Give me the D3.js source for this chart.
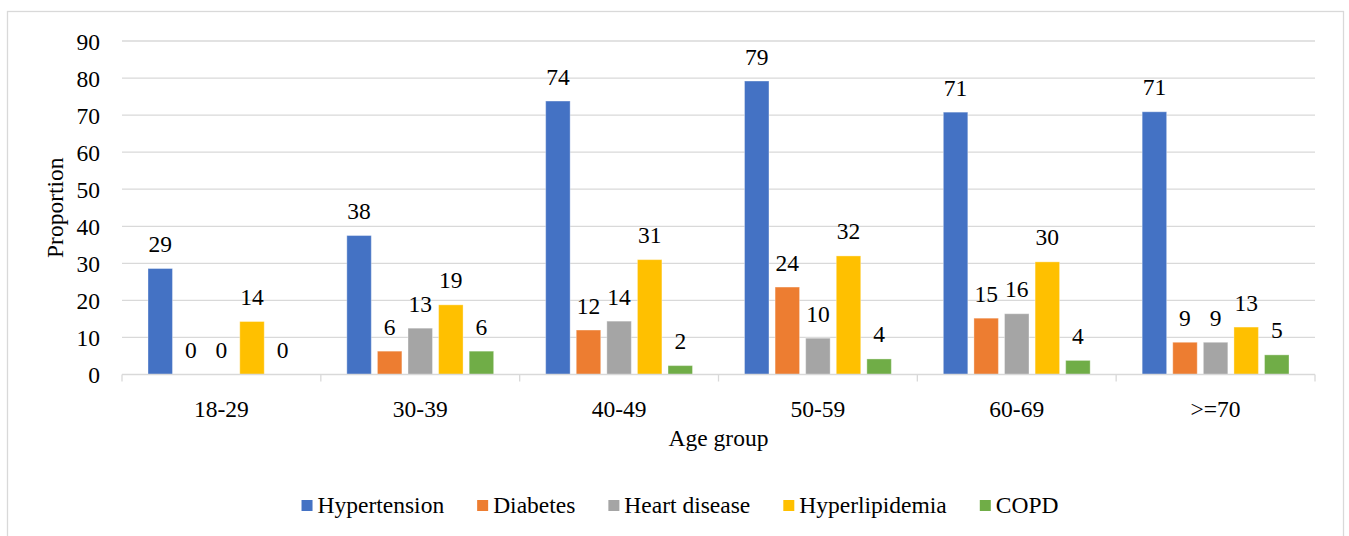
<!DOCTYPE html>
<html>
<head>
<meta charset="utf-8">
<script src="https://cdn.jsdelivr.net/npm/d3@7"></script>
<style>
  body { margin: 0; background: #ffffff; }
</style>
</head>
<body>
<div id="chart"></div>
<script>
const svgWidth = 1349
const svgHeight = 536

const ageGroups = ["18-29", "30-39", "40-49", "50-59", "60-69", ">=70"]
const seriesNames = ["Hypertension", "Diabetes", "Heart disease", "Hyperlipidemia", "COPD"]
const hypertension = [28.6, 37.5, 73.8, 79.2, 70.8, 70.9]
const diabetes = [0, 6.3, 12.0, 23.6, 15.2, 8.7]
const heartDisease = [0, 12.5, 14.4, 9.8, 16.4, 8.7]
const hyperlipidemia = [14.3, 18.8, 31.0, 32.0, 30.4, 12.8]
const copd = [0, 6.3, 2.4, 4.2, 3.8, 5.3]
const yTicks = [0, 10, 20, 30, 40, 50, 60, 70, 80, 90]

const colors = ["#4472c4", "#ed7d31", "#a5a5a5", "#ffc000", "#70ad47"]
const seriesValues = [hypertension, diabetes, heartDisease, hyperlipidemia, copd]

const plot = { left: 122, right: 1315, top: 41, bottom: 374.5 }
const fontSize = "23.5px"
const serif = "'Liberation Serif', 'Times New Roman', 'DejaVu Serif', serif"

const svg = d3.select("#chart").append("svg")
    .attr("width", svgWidth)
    .attr("height", svgHeight)
    .style("font-family", serif)

const label = sel => sel
    .style("font-family", serif)
    .style("font-size", fontSize)
    .style("fill", "#000000")

// outer frame
svg.append("rect")
    .attr("x", 7.5)
    .attr("y", 11.5)
    .attr("width", 1336)
    .attr("height", 530)
    .attr("fill", "#ffffff")
    .attr("stroke", "#d9d9d9")
    .attr("stroke-width", 1.3)

const x0 = d3.scaleBand()
    .domain(ageGroups)
    .range([plot.left, plot.right])

const x1 = d3.scaleBand()
    .domain(seriesNames)
    .range([26, x0.bandwidth() - 26])
    .paddingInner(0.2)

const y = d3.scaleLinear()
    .domain([0, 90])
    .range([plot.bottom, plot.top])

// gridlines
svg.append("g")
    .selectAll("line")
    .data(yTicks.filter(d => d > 0))
    .enter()
    .append("line")
    .attr("x1", plot.left)
    .attr("x2", plot.right)
    .attr("y1", d => y(d))
    .attr("y2", d => y(d))
    .attr("stroke", "#d9d9d9")
    .attr("stroke-width", 1.3)

// y axis labels
const yAxis = d3.axisLeft(y).tickValues(yTicks).tickSize(0).tickPadding(22)
const yAxisG = svg.append("g")
    .attr("transform", `translate(${plot.left}, 0)`)
    .call(yAxis)
    .attr("font-family", null)
    .attr("font-size", null)
yAxisG.select(".domain").remove()
yAxisG.selectAll("text")
    .call(label)
    .attr("dy", "0.34em")

// bars
const groups = svg.append("g")
    .selectAll("g")
    .data(ageGroups)
    .enter()
    .append("g")
    .attr("transform", d => `translate(${x0(d)}, 0)`)

const cells = groups.selectAll("g")
    .data((d, i) => seriesNames.map((s, j) => ({ series: s, value: seriesValues[j][i], color: colors[j] })))
    .enter()
    .append("g")

cells.append("rect")
    .attr("x", d => x1(d.series))
    .attr("width", x1.bandwidth())
    .attr("y", d => y(d.value))
    .attr("height", d => y(0) - y(d.value))
    .attr("fill", d => d.color)
    .attr("stroke", "rgba(255,255,255,0.35)")
    .attr("stroke-width", 1)

cells.append("text")
    .attr("x", d => x1(d.series) + x1.bandwidth() / 2)
    .attr("y", d => y(d.value) - 16.5)
    .attr("text-anchor", "middle")
    .call(label)
    .text(d => Math.round(d.value))

// x axis
const xAxis = d3.axisBottom(x0).tickSize(0).tickPadding(26)
const xAxisG = svg.append("g")
    .attr("transform", `translate(0, ${plot.bottom})`)
    .call(xAxis)
    .attr("font-family", null)
    .attr("font-size", null)
xAxisG.select(".domain").remove()
xAxisG.selectAll("text")
    .call(label)

xAxisG.append("line")
    .attr("x1", plot.left)
    .attr("x2", plot.right)
    .attr("stroke", "#d9d9d9")
    .attr("stroke-width", 1.3)

xAxisG.selectAll(".boundary")
    .data(ageGroups.map(d => x0(d)).concat([plot.right]))
    .enter()
    .append("line")
    .attr("class", "boundary")
    .attr("x1", d => d)
    .attr("x2", d => d)
    .attr("y1", 0)
    .attr("y2", 7)
    .attr("stroke", "#d9d9d9")
    .attr("stroke-width", 1.3)

// axis titles
svg.append("text")
    .attr("transform", `translate(63, ${(plot.top + plot.bottom) / 2}) rotate(-90)`)
    .attr("text-anchor", "middle")
    .call(label)
    .text("Proportion")

svg.append("text")
    .attr("x", (plot.left + plot.right) / 2)
    .attr("y", 446)
    .attr("text-anchor", "middle")
    .call(label)
    .text("Age group")

// legend
const legendG = svg.append("g")
let cursor = 0
seriesNames.forEach((name, i) => {
    const item = legendG.append("g").attr("transform", `translate(${cursor}, 0)`)
    item.append("rect")
        .attr("x", 0)
        .attr("y", -11)
        .attr("width", 11)
        .attr("height", 11)
        .attr("fill", colors[i])
    const t = item.append("text")
        .attr("x", 16)
        .attr("y", 2)
        .call(label)
        .text(name)
    cursor += 16 + t.node().getComputedTextLength() + 33
})
const legendWidth = cursor - 33
legendG.attr("transform", `translate(${680 - legendWidth / 2}, 511)`)
</script>
</body>
</html>
